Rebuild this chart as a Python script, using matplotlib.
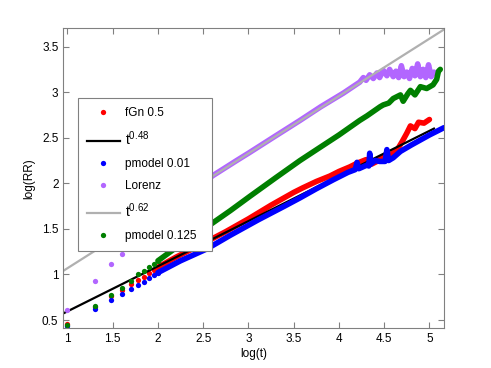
import matplotlib
matplotlib.use("Agg")
import matplotlib.pyplot as plt

plt.rcParams["font.family"] = ["Liberation Sans", "DejaVu Sans"]
plt.rcParams["mathtext.default"] = "regular"

C_RED = "#ff0000"
C_BLUE = "#0000ff"
C_GREEN = "#007f00"
C_PURPLE = "#b266ff"
C_GRAY = "#b0b0b0"
C_AX = "#808080"

# early (sparse) points, log10 of t = 10, 20, ..., 100
x_early = [1.0, 1.301, 1.477, 1.602, 1.699, 1.778, 1.845, 1.903, 1.954, 2.0]
fgn_early = [0.46, 0.64, 0.76, 0.83, 0.89, 0.935, 0.975, 1.02, 1.05, 1.08]
p001_early = [0.44, 0.62, 0.72, 0.785, 0.84, 0.88, 0.915, 0.96, 0.99, 1.02]
lor_early = [0.61, 0.93, 1.11, 1.23, 1.31, 1.38, 1.43, 1.47, 1.51, 1.55]
p0125_early = [0.445, 0.654, 0.77, 0.855, 0.93, 1.0, 1.04, 1.08, 1.11, 1.15]

# dense parts (read along the thick bands)
fgn_x = [2.0, 2.2, 2.5, 2.75, 3.0, 3.25, 3.5, 3.6, 3.75, 3.9, 4.0, 4.12,
         4.2, 4.3, 4.36, 4.42, 4.5, 4.58, 4.64, 4.7, 4.75, 4.79, 4.84,
         4.88, 4.94, 5.0]
fgn_y = [1.08, 1.19, 1.34, 1.47, 1.61, 1.76, 1.90, 1.95, 2.02, 2.08, 2.13,
         2.18, 2.22, 2.26, 2.21, 2.24, 2.29, 2.32, 2.36, 2.46, 2.55, 2.63,
         2.60, 2.67, 2.66, 2.70]

p001_x = [2.0, 2.25, 2.54, 2.8, 3.11, 3.4, 3.57, 3.75, 3.94, 4.1, 4.18,
          4.2, 4.22, 4.31, 4.33, 4.34, 4.35, 4.4, 4.45, 4.51, 4.53, 4.55,
          4.6, 4.68, 4.8, 5.0, 5.16]
p001_y = [1.02, 1.15, 1.28, 1.43, 1.60, 1.75, 1.84, 1.94, 2.04, 2.12, 2.15,
          2.23, 2.16, 2.20, 2.19, 2.33, 2.21, 2.25, 2.24, 2.24, 2.37, 2.25,
          2.28, 2.35, 2.42, 2.53, 2.61]

lor_x = [2.0, 2.3, 2.6, 2.87, 3.0, 3.3, 3.57, 3.8, 4.05, 4.23, 4.27, 4.3,
         4.34, 4.38, 4.42, 4.45, 4.49, 4.53, 4.56, 4.6, 4.63, 4.66, 4.69,
         4.72, 4.75, 4.78, 4.81, 4.84, 4.87, 4.9, 4.93, 4.96, 4.99, 5.02,
         5.05]
lor_y = [1.55, 1.82, 2.08, 2.25, 2.33, 2.52, 2.69, 2.84, 2.99, 3.11, 3.16,
         3.13, 3.19, 3.15, 3.21, 3.16, 3.24, 3.18, 3.25, 3.17, 3.23, 3.16,
         3.29, 3.17, 3.22, 3.15, 3.26, 3.18, 3.31, 3.17, 3.25, 3.16, 3.30,
         3.17, 3.22]

p0125_x = [2.0, 2.25, 2.54, 2.8, 3.02, 3.3, 3.57, 3.8, 4.0, 4.23, 4.31,
           4.455, 4.49, 4.55, 4.6, 4.68, 4.71, 4.76, 4.79, 4.84, 4.9, 4.97,
           5.04, 5.08, 5.1, 5.12]
p0125_y = [1.15, 1.33, 1.52, 1.70, 1.86, 2.06, 2.25, 2.40, 2.53, 2.69,
           2.74, 2.84, 2.86, 2.88, 2.93, 2.97, 2.90, 2.98, 3.02, 2.97, 3.06,
           3.04, 3.08, 3.14, 3.23, 3.25]

# fitted power laws (endpoints as drawn)
fit48_x = [0.955, 5.05]
fit48_y = [0.573, 2.60]
fit62_x = [0.955, 5.165]
fit62_y = [1.04, 3.69]

MS = 3.8
LW = 4.0
FS = 8.5


def series(ax, xe, ye, xd, yd, color, label):
    ax.plot(xe, ye, "o", color=color, ms=MS, mew=0, label=label)
    ax.plot(xd, yd, "-", color=color, lw=LW, solid_capstyle="round",
            solid_joinstyle="round")


fig = plt.figure(figsize=(4.91, 3.68), dpi=100)
ax = fig.add_axes([0.129, 0.108, 0.776, 0.815])

series(ax, x_early, fgn_early, fgn_x, fgn_y, C_RED, "fGn 0.5")
ax.plot(fit48_x, fit48_y, "-", color="black", lw=1.6, label=r"$t^{0.48}$")
series(ax, x_early, p001_early, p001_x, p001_y, C_BLUE, "pmodel 0.01")
series(ax, x_early, lor_early, lor_x, lor_y, C_PURPLE, "Lorenz")
ax.plot(fit62_x, fit62_y, "-", color=C_GRAY, lw=1.6, label=r"$t^{0.62}$")
series(ax, x_early, p0125_early, p0125_x, p0125_y, C_GREEN, "pmodel 0.125")

ax.set_xlim(0.955, 5.165)
ax.set_ylim(0.41, 3.70)
ax.set_xticks([1, 1.5, 2, 2.5, 3, 3.5, 4, 4.5, 5])
ax.set_xticklabels(["1", "1.5", "2", "2.5", "3", "3.5", "4", "4.5", "5"])
ax.set_yticks([0.5, 1, 1.5, 2, 2.5, 3, 3.5])
ax.set_yticklabels(["0.5", "1", "1.5", "2", "2.5", "3", "3.5"])
ax.tick_params(direction="in", length=4, width=0.8, color=C_AX,
               top=True, right=True, labelsize=FS, pad=3.5)
for sp in ax.spines.values():
    sp.set_color(C_AX)
    sp.set_linewidth(0.8)

ax.set_xlabel("log(t)", fontsize=FS, labelpad=2)
ax.set_ylabel("log(RR)", fontsize=FS, labelpad=5)

leg = ax.legend(loc="upper left", bbox_to_anchor=(0.038, 0.767, 0.352, 0.0),
                mode="expand", borderaxespad=0, fontsize=FS,
                handlelength=2.8, handletextpad=0.45, labelspacing=0.85,
                borderpad=0.75, fancybox=False, framealpha=1,
                edgecolor=C_AX, numpoints=1)
leg.get_frame().set_linewidth(0.8)
for txt in leg.get_texts():
    if txt.get_text().startswith("$"):
        txt.set_fontsize(10)

fig.savefig("out.png", dpi=100)
